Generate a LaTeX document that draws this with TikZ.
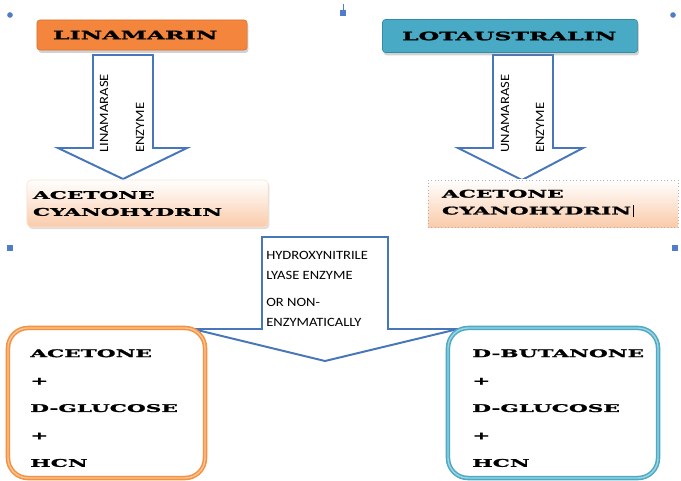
\documentclass[tikz,border=0pt]{standalone}
\usepackage{fontspec}
\newfontfamily\chemfont[FakeStretch=2.05, BoldFeatures={FakeBold=1.6}]{DejaVu Serif}
\newfontfamily\labfont[FakeStretch=1.15]{Carlito}
\usetikzlibrary{shadows}

\definecolor{linfill}{RGB}{243,134,60}
\definecolor{lindraw}{RGB}{222,112,45}
\definecolor{lotfill}{RGB}{72,170,196}
\definecolor{lotdraw}{RGB}{50,140,168}
\definecolor{arrowblue}{RGB}{72,118,186}
\definecolor{peach}{RGB}{250,203,170}
\definecolor{prodorange}{RGB}{244,146,66}
\definecolor{prodorangelight}{RGB}{250,196,150}
\definecolor{prodteal}{RGB}{75,170,196}
\definecolor{prodteallight}{RGB}{160,212,226}
\definecolor{handle}{RGB}{80,125,200}

\tikzset{
    topbox/.style={rounded corners=2pt, minimum height=0.75cm, inner sep=0pt, align=left,
        font=\chemfont\bfseries\fontsize{8.2}{10}\selectfont,
        drop shadow={opacity=0.35, shadow xshift=1pt, shadow yshift=-2pt}},
    cyanobox/.style={minimum height=1.175cm, align=left, inner xsep=0pt,
        shading=axis, top color=white, bottom color=peach,
        font=\chemfont\bfseries\fontsize{7.5}{12}\selectfont},
    prodbox/.style={rounded corners=0.5cm, line width=1.1pt, double distance=1pt,
        minimum height=3.75cm},
    prodtext/.style={anchor=north west, align=left, inner sep=0pt,
        font=\chemfont\bfseries\fontsize{7.5}{19.5}\selectfont},
    blockarrow/.style={draw=arrowblue, line width=1.4pt, line join=miter, fill=white},
    enzlabel/.style={rotate=90, anchor=west, inner sep=0pt,
        font=\labfont\fontsize{9}{11}\selectfont},
    lyase/.style={anchor=north west, align=left, inner sep=0pt,
        font=\labfont\fontsize{9}{14}\selectfont}
}

\begin{document}
\begin{tikzpicture}[x=0.025cm, y=-0.025cm]
    \useasboundingbox (0,0) rectangle (681,480);
    \fill[white] (0,0) rectangle (681,480);

    \fill[handle] (10,15) circle (2pt);
    \fill[handle] (673,15) circle (2pt);
    \draw[handle, line width=0.6pt] (343,4) -- (343,10);
    \fill[handle] (340,10) rectangle (346,16);
    \fill[handle] (7,245) rectangle (13,251);
    \fill[handle] (672,245) rectangle (678,251);

    \draw[blockarrow] (93,55) -- (153,55) -- (153,148) -- (187,148) -- (123,179) -- (58,148) -- (93,148) -- cycle;
    \draw[blockarrow] (493,55) -- (553,55) -- (553,148) -- (583,148) -- (522,180) -- (458,148) -- (493,148) -- cycle;
    \draw[blockarrow] (262,329) -- (262,237) -- (388,237) -- (388,329) -- (458,329) -- (325,361) -- (193,329) -- cycle;

    \node[topbox, fill=linfill, draw=lindraw, minimum width=5.25cm, text width=4.45cm] (lin) at (142,35) {LINAMARIN};
    \node[topbox, fill=lotfill, draw=lotdraw, minimum width=6.375cm, minimum height=0.825cm, text width=5.4cm] (lot) at (510,36) {LOTAUSTRALIN};

    \node[enzlabel] (linase1) at (104,153) {LINAMARASE};
    \node[enzlabel] (enz1) at (140,153) {ENZYME};
    \node[enzlabel] (linase2) at (505,153) {UNAMARASE};
    \node[enzlabel] (enz2) at (540,153) {ENZYME};

    \node[cyanobox, rounded corners=3pt, draw=peach!60,
        drop shadow={opacity=0.25, shadow xshift=1pt, shadow yshift=-1.5pt},
        minimum width=6.025cm, text width=5.725cm] (acl) at (147.5,203.5) {ACETONE\\CYANOHYDRIN};
    \node[cyanobox, draw=gray!60, dotted, minimum width=6.25cm, text width=5.55cm] (acr) at (553,203.5)
        {ACETONE\\CYANOHYDRIN\,\rule[-2pt]{0.5pt}{9pt}};

    \node[lyase] (hnl) at (266,251) {HYDROXYNITRILE\\LYASE ENZYME\\[5.7pt]OR NON-\\ENZYMATICALLY};

    \node[prodbox, draw=prodorange, double=prodorangelight, minimum width=4.925cm] (lprod) at (106.5,403) {};
    \node[prodtext] (ltext) at (30,349) {ACETONE\\+\\\mbox{D-GLUCOSE}\\+\\HCN};
    \node[prodbox, draw=prodteal, double=prodteallight, minimum width=5.25cm] (rprod) at (553,403) {};
    \node[prodtext] (rtext) at (472,349) {\mbox{D-BUTANONE}\\+\\\mbox{D-GLUCOSE}\\+\\HCN};
\end{tikzpicture}
\end{document}
